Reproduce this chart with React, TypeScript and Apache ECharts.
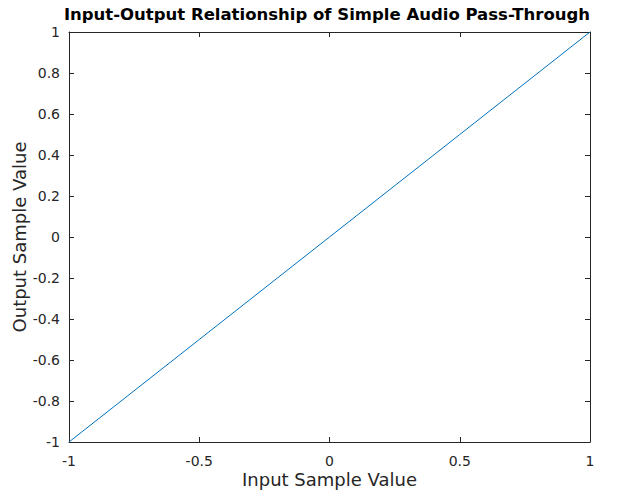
import React, { useEffect, useRef } from "react";
import * as echarts from "echarts";

const inputValues = [-1, -0.5, 0, 0.5, 1];
const outputValues = [-1, -0.5, 0, 0.5, 1];
const titleText = "Input-Output Relationship of Simple Audio Pass-Through";
const xName = "Input Sample Value";
const yName = "Output Sample Value";

const axisColor = "#262626";
const font = "DejaVu Sans";

export default function App() {
  const ref = useRef<HTMLDivElement>(null);
  useEffect(() => {
    if (!ref.current) return;
    const chart = echarts.init(ref.current, undefined, { renderer: "svg" });
    const fmt = (v: number) => String(v);
    const baseAxis = {
      type: "value" as const,
      min: -1,
      max: 1,
      splitLine: { show: false },
      axisLine: { show: true, onZero: false, lineStyle: { color: axisColor, width: 1 } },
      axisTick: { show: true, inside: true, length: 5, lineStyle: { color: axisColor } },
    };
    chart.setOption({
      animation: false,
      backgroundColor: "#ffffff",
      graphic: [
        {
          type: "text",
          x: 327,
          y: 6,
          style: {
            text: titleText,
            fontFamily: font,
            fontSize: 16.5,
            fontWeight: "bold",
            fill: "#000",
            textAlign: "center",
            textVerticalAlign: "top",
          },
        },
      ],
      grid: { left: 69, right: 30, top: 32, bottom: 54, containLabel: false, outerBoundsMode: "none" },
      xAxis: [
        {
          ...baseAxis,
          position: "bottom",
          interval: 0.5,
          name: xName,
          nameLocation: "middle",
          nameGap: 28,
          nameMoveOverlap: false,
          nameTextStyle: { fontFamily: font, fontSize: 18, color: axisColor },
          axisLabel: { fontFamily: font, fontSize: 14, color: axisColor, margin: 12, formatter: fmt },
        },
        {
          ...baseAxis,
          position: "top",
          interval: 0.5,
          axisLabel: { show: false },
        },
      ],
      yAxis: [
        {
          ...baseAxis,
          position: "left",
          interval: 0.2,
          name: yName,
          nameLocation: "middle",
          nameGap: 41,
          nameMoveOverlap: false,
          nameTextStyle: { fontFamily: font, fontSize: 18, color: axisColor },
          axisLabel: {
            fontFamily: font,
            fontSize: 14,
            color: axisColor,
            margin: 9,
            formatter: (v: number) => String(Math.round(v * 10) / 10),
          },
        },
        {
          ...baseAxis,
          position: "right",
          interval: 0.2,
          axisLabel: { show: false },
        },
      ],
      series: [
        {
          type: "line",
          data: inputValues.map((x, i) => [x, outputValues[i]]),
          showSymbol: false,
          lineStyle: { color: "#0072BD", width: 1 },
          xAxisIndex: 0,
          yAxisIndex: 0,
        },
      ],
    });
    return () => chart.dispose();
  }, []);
  return (
    <div style={{ position: "absolute", left: 0, top: 0, width: 620, height: 496, overflow: "hidden" }}>
      <div ref={ref} style={{ width: 620, height: 496 }} />
    </div>
  );
}
